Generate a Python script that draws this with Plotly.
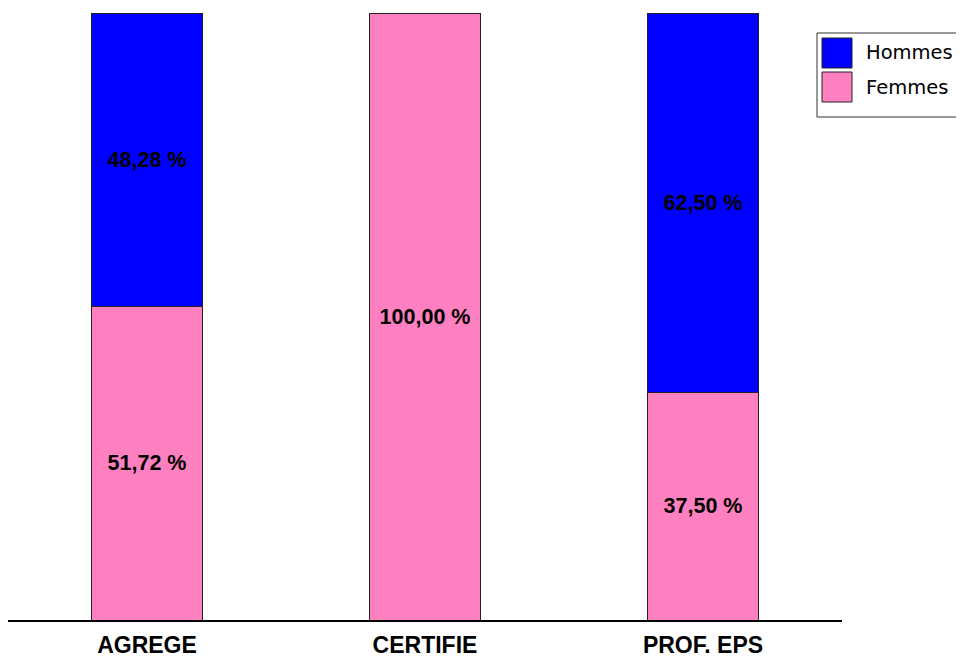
import plotly.graph_objects as go

categories = ["AGREGE", "CERTIFIE", "PROF. EPS"]
series_names = ["Femmes", "Hommes"]
femmes = [51.72, 100.00, 37.50]
hommes = [48.28, 0.00, 62.50]
colors = {"Femmes": "#FF80C0", "Hommes": "#0000FF"}

# the page has an 8px body margin, so the figure is sized to fit the window
OFF = 8
W, H = 964 - OFF, 658 - OFF
L, R, T, B = 0, 122, 5, 38
PW, PH = W - L - R, H - T - B

def px_x(px):
    return (px - OFF - L) / PW

def px_y(py):
    return (H - B - (py - OFF)) / PH

def fmt(v):
    return "" if v == 0 else f"{v:.2f}".replace(".", ",") + " %"

fig = go.Figure()
for name, vals in [("Femmes", femmes), ("Hommes", hommes)]:
    fig.add_trace(go.Bar(
        x=categories, y=vals, name=name,
        marker=dict(color=colors[name], line=dict(color="#222222", width=1)),
        text=[fmt(v) for v in vals], textposition="inside",
        insidetextanchor="middle", constraintext="none",
        textfont=dict(family="Liberation Sans, Arial", size=21.5, color="black", weight="bold"),
        width=0.4, showlegend=False, hoverinfo="skip",
    ))

fig.update_layout(
    barmode="stack", width=W, height=H,
    margin=dict(l=L, r=R, t=T, b=B, pad=0),
    plot_bgcolor="white", paper_bgcolor="white",
    xaxis=dict(showline=True, linecolor="black", linewidth=1.5, ticks="",
               ticklabelstandoff=4,
               tickfont=dict(family="Liberation Sans, Arial", size=23, color="black", weight="bold"),
               showgrid=False),
    yaxis=dict(range=[0, 100], visible=False, showgrid=False),
)

# custom legend
fig.add_shape(type="rect", xref="paper", yref="paper",
              x0=px_x(817), x1=px_x(990), y0=px_y(117), y1=px_y(33),
              line=dict(color="#333333", width=1), fillcolor="white")
legend_items = ["Hommes", "Femmes"]
for i, name in enumerate(legend_items):
    top = 38 + i * 34
    fig.add_shape(type="rect", xref="paper", yref="paper",
                  x0=px_x(822), x1=px_x(852), y0=px_y(top + 30), y1=px_y(top),
                  line=dict(color="#222222", width=1), fillcolor=colors[name])
    fig.add_annotation(xref="paper", yref="paper", x=px_x(864), y=px_y(top + 15),
                       xanchor="left", yanchor="middle", showarrow=False, text=name,
                       font=dict(family="DejaVu Sans", size=19.5, color="black"))

fig.write_html("out.html")
